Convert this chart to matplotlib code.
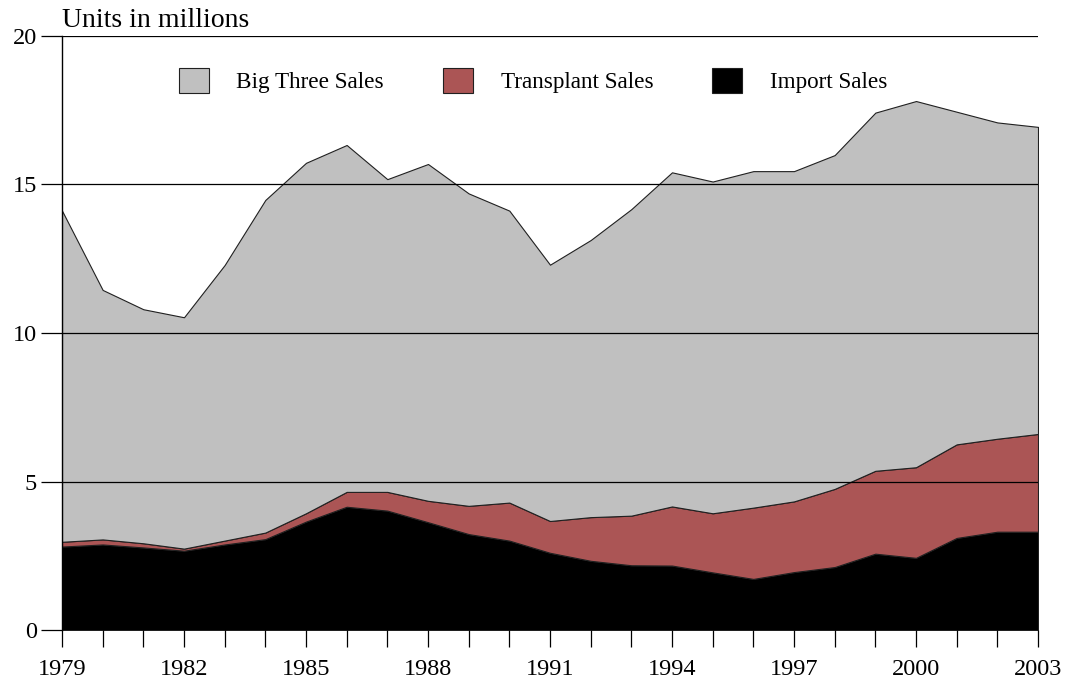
import matplotlib
matplotlib.use("Agg")
import matplotlib.pyplot as plt
from matplotlib.patches import Patch

plt.rcParams['font.family'] = ['Liberation Serif', 'DejaVu Serif']

years = list(range(1979, 2004))
import_sales = [2.81, 2.88, 2.78, 2.67, 2.88, 3.06, 3.65, 4.15, 4.02, 3.63, 3.23, 3.01, 2.60,
                2.33, 2.18, 2.17, 1.94, 1.72, 1.95, 2.12, 2.57, 2.43, 3.10, 3.31, 3.31]
transplant_sales = [0.16, 0.17, 0.14, 0.07, 0.13, 0.22, 0.28, 0.50, 0.63, 0.72, 0.95, 1.28, 1.07,
                    1.47, 1.67, 1.99, 1.99, 2.40, 2.38, 2.63, 2.79, 3.05, 3.15, 3.13, 3.29]
big_three_sales = [11.15, 8.40, 7.88, 7.79, 9.28, 11.20, 11.80, 11.68, 10.53, 11.34, 10.52, 9.83, 8.63,
                   9.33, 10.32, 11.25, 11.17, 11.33, 11.12, 11.24, 12.06, 12.33, 11.20, 10.65, 10.34]
labels = ['Big Three Sales', 'Transplant Sales', 'Import Sales']
colors = ['#c0c0c0', '#ab5555', '#000000']

fig = plt.figure(figsize=(10.65, 6.82), dpi=100)
ax = fig.add_axes([62/1065, 1 - 630/682, (1038-62)/1065, (630-36)/682])

ax.stackplot(years, import_sales, transplant_sales, big_three_sales,
             colors=[colors[2], colors[1], colors[0]],
             edgecolor='#202020', linewidth=0.8, zorder=1)

ax.set_xlim(1979, 2003)
ax.set_ylim(0, 20)
ax.set_yticks([0, 5, 10, 15, 20])
ax.set_xticks(years)
ax.set_xticklabels([str(y) if (y - 1979) % 3 == 0 else '' for y in years])
ax.yaxis.grid(True, color='black', linewidth=0.9, zorder=2)
ax.set_axisbelow(False)
for s in ['top', 'right', 'bottom']:
    ax.spines[s].set_visible(False)
ax.spines['left'].set_linewidth(1.0)
ax.tick_params(axis='y', length=15, width=0.9, labelsize=17.5, pad=3)
ax.tick_params(axis='x', length=12, width=0.9, labelsize=17.5, pad=9)

ax.text(0, 1.005, 'Units in millions', transform=ax.transAxes, fontsize=20,
        ha='left', va='bottom')

handles = [Patch(facecolor=c, edgecolor='#202020', linewidth=0.8) for c in colors]
ax.legend(handles, labels, ncol=3, frameon=False, loc='center',
          bbox_to_anchor=(0.4826, 0.925), fontsize=16.7, handlelength=1.29, handleheight=1.34,
          handletextpad=1.2, columnspacing=2.54)

fig.savefig('out.png', dpi=100)
